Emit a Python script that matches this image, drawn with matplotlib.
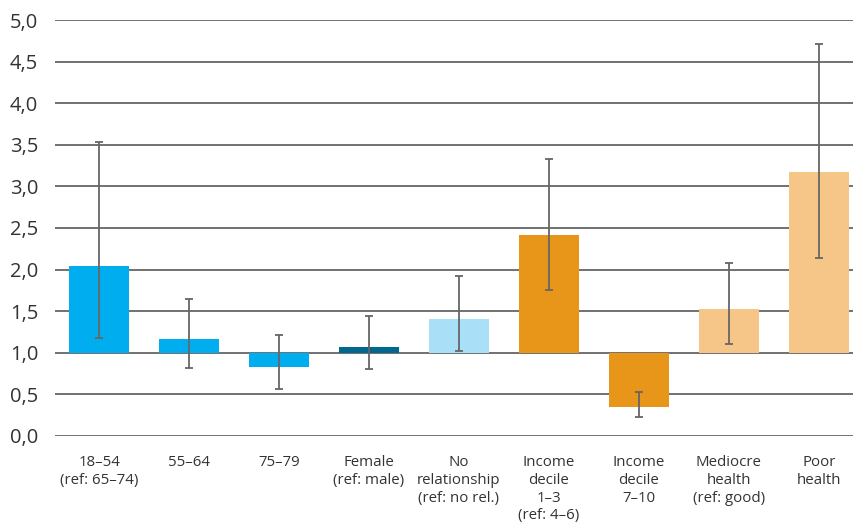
import numpy as np
import matplotlib.pyplot as plt

# Odds ratios (ref = 1,0) with confidence intervals
labels = ['18–54\n(ref: 65–74)', '55–64', '75–79', 'Female\n(ref: male)',
          'No\nrelationship\n(ref: no rel.)', 'Income\ndecile\n1–3\n(ref: 4–6)',
          'Income\ndecile\n7–10', 'Mediocre\nhealth\n(ref: good)', 'Poor\nhealth']
odds = [2.04, 1.16, 0.83, 1.07, 1.40, 2.41, 0.34, 1.52, 3.18]
ci_low = [1.17, 0.82, 0.56, 0.80, 1.02, 1.75, 0.23, 1.10, 2.14]
ci_high = [3.53, 1.65, 1.21, 1.44, 1.92, 3.33, 0.53, 2.08, 4.71]
colors = ['#00aeef', '#00aeef', '#00aeef', '#00678f', '#aadff8',
          '#e8961a', '#e8961a', '#f5c688', '#f5c688']
yticks = np.arange(0, 5.01, 0.5)

plt.rcParams['font.family'] = ['Open Sans', 'DejaVu Sans']

fig = plt.figure(figsize=(8.54, 5.26), dpi=100)
ax = fig.add_axes([55/854, (526-435.7)/526, (854-55)/854, (435.7-20.3)/526])

x = np.arange(len(odds))
odds = np.array(odds)
ax.bar(x, odds - 1, bottom=1, width=0.667, color=colors, zorder=2)
yerr = [odds - np.array(ci_low), np.array(ci_high) - odds]
ax.errorbar(x, odds, yerr=yerr, fmt='none', ecolor='#666666', elinewidth=1.3,
            capsize=3, capthick=1.3, zorder=3)

for t in yticks:
    ax.axhline(t, color='#4a4a4a', lw=1.1, zorder=1)

ax.set_ylim(0, 5)
ax.set_xlim(-0.49, 8.39)
ax.set_yticks(yticks)
ax.set_yticklabels([f'{t:.1f}'.replace('.', ',') for t in yticks], fontsize=14.5, color='#333333')
ax.set_xticks(x)
ax.set_xticklabels(labels, fontsize=10.8, color='#333333', linespacing=1.25, va='top')
ax.tick_params(axis='both', length=0)
ax.tick_params(axis='y', pad=12)
ax.tick_params(axis='x', pad=14)
for s in ax.spines.values():
    s.set_visible(False)

fig.savefig('out.png', dpi=100)
